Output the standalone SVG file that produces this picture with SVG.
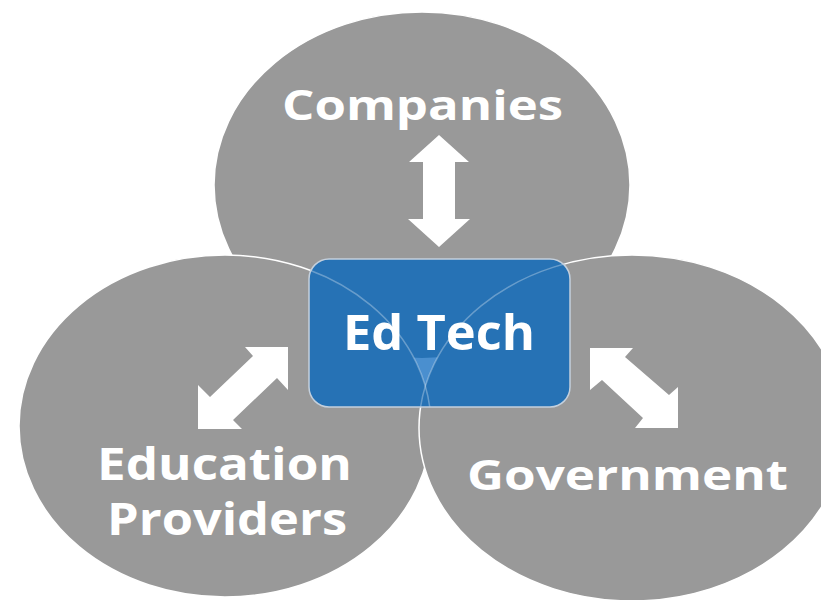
<svg xmlns="http://www.w3.org/2000/svg" width="821" height="600" viewBox="0 0 821 600">
  <style>
    .circle { fill: #999999; stroke: #ffffff; stroke-width: 1.5; }
    .label { font-family: "Open Sans", "DejaVu Sans", sans-serif; font-weight: bold; fill: #ffffff; }
    .arrow { fill: #ffffff; }
    .ghost { fill: none; stroke: #ffffff; stroke-opacity: 0.3; stroke-width: 1.5; }
  </style>
  <defs>
    <clipPath id="boxClip"><rect x="309" y="259" width="261" height="148" rx="20" ry="20"/></clipPath>
    <mask id="outsideAll" maskUnits="userSpaceOnUse" x="0" y="0" width="821" height="600">
      <rect x="0" y="0" width="821" height="600" fill="#ffffff"/>
      <ellipse cx="422" cy="185" rx="208" ry="173" fill="#000000"/>
      <ellipse cx="225" cy="426" rx="206" ry="171" fill="#000000"/>
      <ellipse cx="632" cy="428" rx="213" ry="173" fill="#000000"/>
    </mask>
  </defs>
  <rect width="821" height="600" fill="#ffffff"/>

  <g id="node-companies">
    <ellipse class="circle" cx="422" cy="185" rx="208" ry="173"/>
    <text class="label" x="282" y="120" font-size="42" textLength="281" lengthAdjust="spacingAndGlyphs">Companies</text>
  </g>

  <g id="node-education-providers">
    <ellipse class="circle" cx="225" cy="426" rx="206" ry="171"/>
    <text class="label" x="97" y="480" font-size="45" textLength="255" lengthAdjust="spacingAndGlyphs">Education</text>
    <text class="label" x="107" y="535" font-size="45" textLength="240" lengthAdjust="spacingAndGlyphs">Providers</text>
  </g>

  <g id="node-government">
    <ellipse class="circle" cx="632" cy="428" rx="213" ry="173"/>
    <text class="label" x="467" y="490" font-size="41" textLength="321" lengthAdjust="spacingAndGlyphs">Government</text>
  </g>

  <g id="connectors">
    <polygon class="arrow" points="439,135 469,162 455,162 455,219 470,219 439,247 408,219 423,219 423,162 409,162"/>
    <polygon class="arrow" points="288,347 288,390 277,378 233,420 242,429 198,429 198,385 210,397 253,356 245,347"/>
    <polygon class="arrow" points="590,348 633,348 625,357 669,395 678,387 678,428 635,428 643,418 602,380 590,390"/>
  </g>

  <g id="node-edtech">
    <rect x="309" y="259" width="261" height="148" rx="20" ry="20" fill="#2672B5"/>
    <g clip-path="url(#boxClip)">
      <rect x="309" y="259" width="261" height="148" fill="#4a8fcf" mask="url(#outsideAll)"/>
      <ellipse class="ghost" cx="225" cy="426" rx="206" ry="171"/>
      <ellipse class="ghost" cx="632" cy="428" rx="213" ry="173"/>
    </g>
    <rect x="309" y="259" width="261" height="148" rx="20" ry="20" fill="none" stroke="#c4d0dd" stroke-width="1.5"/>
    <text class="label" x="343" y="350" font-size="48" textLength="192" lengthAdjust="spacingAndGlyphs">Ed Tech</text>
  </g>
</svg>
